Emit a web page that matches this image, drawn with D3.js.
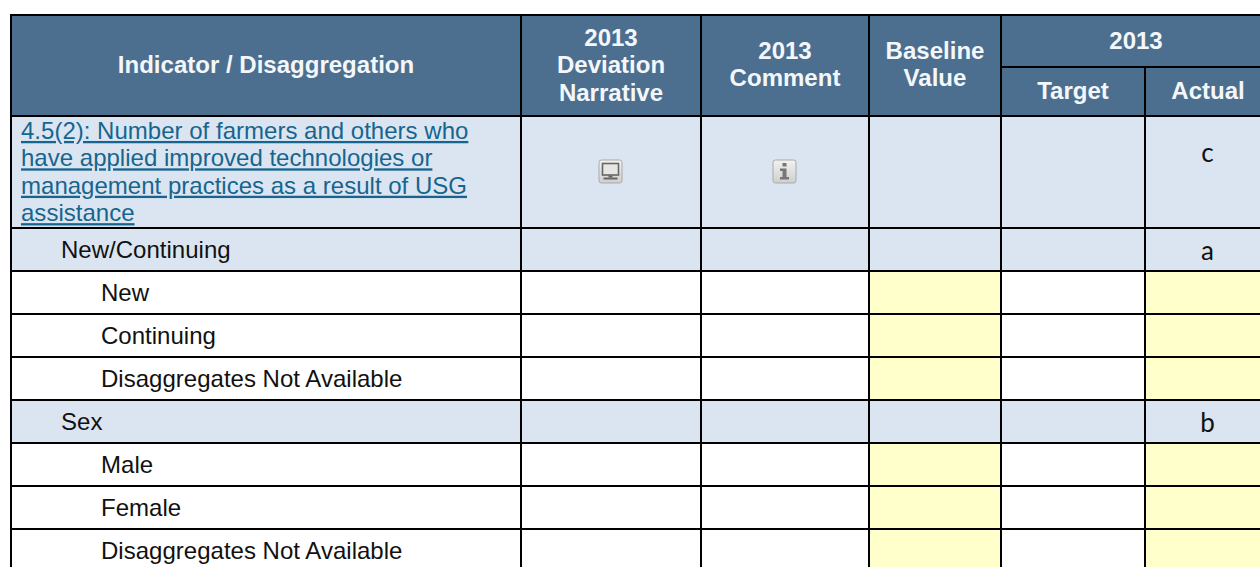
<!DOCTYPE html>
<html>
<head>
<meta charset="utf-8">
<script src="https://cdn.jsdelivr.net/npm/d3@7"></script>
<style>
  html, body { margin: 0; padding: 0; background: #fff; overflow: hidden; }
  svg { display: block; }
  text { font-family: "Liberation Sans", Arial, sans-serif; font-size: 23px; }
  .hdr { font-weight: bold; fill: #f4f7fa; }
  .row-label { fill: #111; }
  .link { fill: #17658f; text-decoration: underline; }
  .note { font-family: Lato, sans-serif; font-size: 26px; fill: #111; }
</style>
</head>
<body>
<svg id="chart" width="1260" height="567"></svg>
<script>
// Table content
const columns = ['indicator', 'narrative', 'comment', 'baseline', 'target', 'actual'];
const indicatorLines = [
  '4.5(2): Number of farmers and others who',
  'have applied improved technologies or',
  'management practices as a result of USG',
  'assistance'
];
const rowLabels = ['indicator', 'New/Continuing', 'New', 'Continuing', 'Disaggregates Not Available',
  'Sex', 'Male', 'Female', 'Disaggregates Not Available'];
const rowKinds = ['head', 'group', 'item', 'item', 'item', 'group', 'item', 'item', 'item'];
const actualNotes = ['c', 'a', '', '', '', 'b', '', '', ''];
const headerCells = [
  { col: 'indicator', lines: ['Indicator / Disaggregation'], firstBaseline: 73 },
  { col: 'narrative', lines: ['2013', 'Deviation', 'Narrative'], firstBaseline: 46 },
  { col: 'comment', lines: ['2013', 'Comment'], firstBaseline: 59 },
  { col: 'baseline', lines: ['Baseline', 'Value'], firstBaseline: 59 }
];
const subHeaders = [{ col: 'target', label: 'Target' }, { col: 'actual', label: 'Actual' }];
const spanHeader = '2013';

// Layout. The source picture is stretched a little sideways, so text is too.
const stretch = 1.045;
const colEdges = [11, 521, 701, 869, 1001, 1145, 1270];
const rowEdges = [116, 228, 271, 314, 357, 400, 443, 486, 529, 572];
const headTop = 15, subTop = 67, pageRight = 1260, pageBottom = 567;
const C = { head: '#4c6f8f', band: '#dbe5f1', yellow: '#ffffcc', line: '#000' };

const xLeft = d3.scaleOrdinal(columns, colEdges);
const xRight = d3.scaleOrdinal(columns, colEdges.slice(1));
const xMid = c => (xLeft(c) + xRight(c)) / 2;
const yTop = d3.scaleOrdinal(d3.range(rowLabels.length), rowEdges);
const yBot = d3.scaleOrdinal(d3.range(rowLabels.length), rowEdges.slice(1));

const svg = d3.select('#chart');
const defs = svg.append('defs');

const iconGrad = defs.append('linearGradient').attr('id', 'iconBg')
  .attr('x1', 0).attr('y1', 0).attr('x2', 0).attr('y2', 1);
iconGrad.append('stop').attr('offset', '0%').attr('stop-color', '#f2f2f0');
iconGrad.append('stop').attr('offset', '100%').attr('stop-color', '#cfcfcd');
defs.append('filter').attr('id', 'soft')
  .append('feGaussianBlur').attr('stdDeviation', 0.5);

// stretched text placed by its own transform
const place = (sel, x, y) => sel.attr('transform', (d, i) =>
  `translate(${typeof x === 'function' ? x(d, i) : x},${typeof y === 'function' ? y(d, i) : y}) scale(${stretch},1)`);

// Header background
svg.append('rect').attr('x', colEdges[0]).attr('y', headTop)
  .attr('width', pageRight - colEdges[0]).attr('height', rowEdges[0] - headTop)
  .attr('fill', C.head);

// Body cells
const rowIdx = d3.range(rowLabels.length);
const cells = rowIdx.flatMap(r => columns.map(c => ({ r, c })));
svg.append('g').selectAll('rect').data(cells).join('rect')
  .attr('x', d => xLeft(d.c)).attr('y', d => yTop(d.r))
  .attr('width', d => xRight(d.c) - xLeft(d.c))
  .attr('height', d => yBot(d.r) - yTop(d.r))
  .attr('fill', d => {
    if (rowKinds[d.r] !== 'item') return C.band;
    return d.c === 'baseline' || d.c === 'actual' ? C.yellow : '#fff';
  });

// Grid lines
const grid = svg.append('g').attr('stroke', C.line).attr('stroke-width', 2);
grid.selectAll('line.v').data(colEdges.slice(0, -1)).join('line').attr('class', 'v')
  .attr('x1', d => d).attr('x2', d => d)
  // the Actual rule starts under the 2013 span header
  .attr('y1', d => d === xLeft('actual') ? subTop : headTop - 1).attr('y2', pageBottom);
grid.selectAll('line.h').data([headTop, ...rowEdges.slice(0, -1)]).join('line').attr('class', 'h')
  .attr('x1', colEdges[0] - 1).attr('x2', pageRight)
  .attr('y1', d => d).attr('y2', d => d);
grid.append('line').attr('x1', xLeft('target')).attr('x2', pageRight).attr('y1', subTop).attr('y2', subTop);

// Header text
const lineStep = 27.3;
const hdr = svg.append('g');
headerCells.forEach(h => {
  hdr.selectAll(null).data(h.lines).join('text').attr('class', 'hdr')
    .attr('text-anchor', 'middle')
    .call(place, xMid(h.col), (d, i) => h.firstBaseline + i * lineStep)
    .text(d => d);
});
hdr.append('text').datum(spanHeader).attr('class', 'hdr').attr('text-anchor', 'middle')
  .call(place, 1136, 49).text(d => d);
hdr.selectAll(null).data(subHeaders).join('text').attr('class', 'hdr')
  .attr('text-anchor', 'middle')
  .call(place, d => d.col === 'actual' ? 1208 : xMid(d.col), 99)
  .text(d => d.label);

// Indicator link, four lines
svg.append('g').selectAll('text').data(indicatorLines).join('text').attr('class', 'link')
  .call(place, 21, (d, i) => 139 + i * 27.4).text(d => d);

// Row labels
const labelX = { group: 61, item: 101 };
svg.append('g').selectAll('text').data(rowIdx.filter(r => rowKinds[r] !== 'head')).join('text')
  .attr('class', 'row-label')
  .call(place, r => labelX[rowKinds[r]], r => (yTop(r) + yBot(r)) / 2 + 8)
  .text(r => rowLabels[r]);

// Letters in the Actual column
svg.append('g').selectAll('text').data(rowIdx.filter(r => actualNotes[r])).join('text')
  .attr('class', 'note').attr('text-anchor', 'middle').attr('x', 1207.5)
  .attr('y', r => r === 0 ? 162 : (yTop(r) + yBot(r)) / 2 + 10)
  .text(r => actualNotes[r]);

// Icons
function iconBase(cx, cy) {
  const g = svg.append('g').attr('transform', `translate(${cx - 12},${cy - 12})`).attr('filter', 'url(#soft)');
  g.append('rect').attr('x', 0.5).attr('y', 0.5).attr('width', 23).attr('height', 23).attr('rx', 2.5)
    .attr('fill', 'url(#iconBg)').attr('stroke', '#a9a9a7');
  return g;
}
const monitor = iconBase(610.5, 171.5);
monitor.append('rect').attr('x', 4).attr('y', 4).attr('width', 16).attr('height', 11.5)
  .attr('fill', '#e6e6e4').attr('stroke', '#666').attr('stroke-width', 1.6);
monitor.append('rect').attr('x', 10).attr('y', 16).attr('width', 4).attr('height', 2).attr('fill', '#666');
monitor.append('rect').attr('x', 5).attr('y', 18).attr('width', 14).attr('height', 2).attr('fill', '#666');

const info = iconBase(784.5, 171.5);
info.append('rect').attr('x', 10).attr('y', 3.5).attr('width', 4).attr('height', 3.5).attr('fill', '#777');
info.append('path').attr('d', 'M7.5 9h6.5v8.5h2.5v2.5h-9v-2.5h2.5v-6h-2.5z').attr('fill', '#777');
</script>
</body>
</html>
